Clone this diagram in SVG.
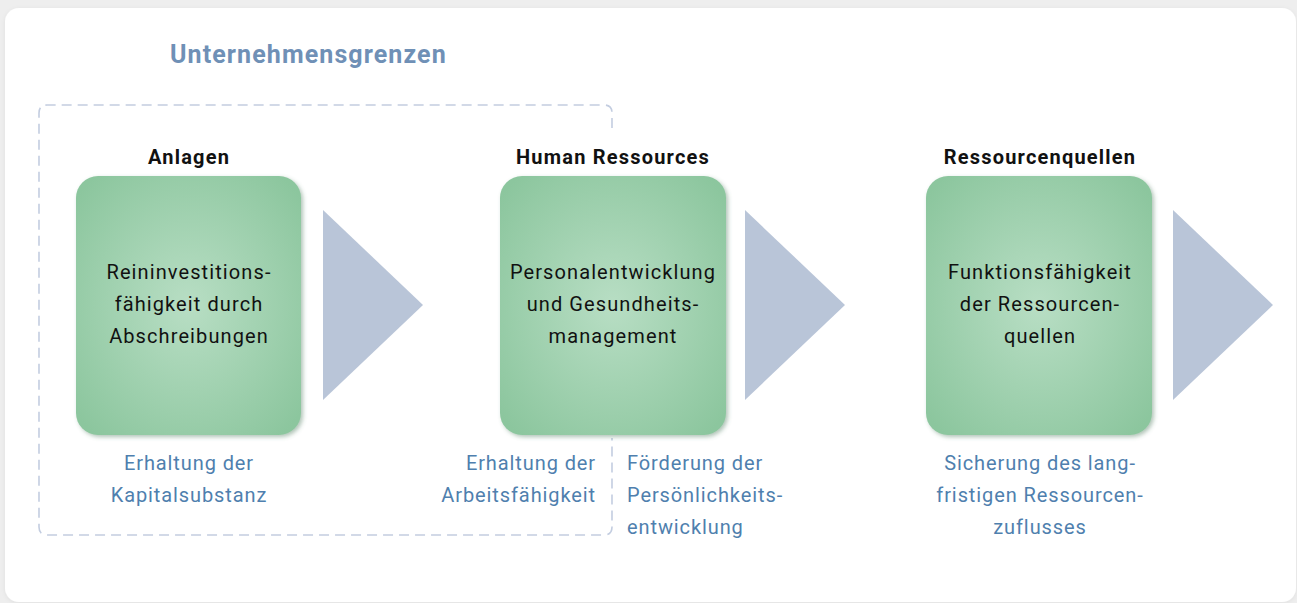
<svg xmlns="http://www.w3.org/2000/svg" width="1297" height="603" viewBox="0 0 1297 603">
  <defs>
    <radialGradient id="gbox" cx="0.5" cy="0.5" r="0.65">
      <stop offset="0" stop-color="#b8dec4"/>
      <stop offset="1" stop-color="#8cc69e"/>
    </radialGradient>
    <filter id="shadow" x="-10%" y="-10%" width="125%" height="125%">
      <feDropShadow dx="2" dy="2" stdDeviation="2" flood-color="#4f7d5e" flood-opacity="0.45"/>
    </filter>
    <filter id="cardshadow" x="-5%" y="-5%" width="110%" height="110%">
      <feDropShadow dx="0" dy="1" stdDeviation="2" flood-color="#000" flood-opacity="0.06"/>
    </filter>
  </defs>
  <style>
    .title { font-family: Roboto, "Liberation Sans", sans-serif; font-weight: bold; font-size: 20px; letter-spacing: 1.2px; fill: #111; text-anchor: middle; }
    .boxtxt { font-family: Roboto, "Liberation Sans", sans-serif; font-size: 20px; letter-spacing: 1.1px; fill: #111; text-anchor: middle; }
    .note { font-family: Roboto, "Liberation Sans", sans-serif; font-size: 20px; letter-spacing: 0.9px; fill: #4f7fae; }
    .head { font-family: Roboto, "Liberation Sans", sans-serif; font-weight: bold; font-size: 25px; letter-spacing: 1.1px; fill: #6f90b6; }
    .box { fill: url(#gbox); filter: url(#shadow); }
    .tri { fill: #b9c5d8; }
    .dash { fill: none; stroke: #c3cde0; stroke-width: 1.6; stroke-dasharray: 10 6; }
  </style>
  <rect x="0" y="0" width="1297" height="603" fill="#eeeeee"/>
  <rect x="5" y="8" width="1291" height="594" rx="14" fill="#ffffff" filter="url(#cardshadow)"/>

  <text class="head" x="170" y="63">Unternehmensgrenzen</text>

  <g id="boundary">
    <path class="dash" d="M 612 128 V 113 Q 612 105 604 105 H 47 Q 39 105 39 113 V 527 Q 39 535 47 535 H 604 Q 612 535 612 527 V 438"/>
  </g>

  <g id="connectors">
    <polygon class="tri" points="323,210 423,305 323,400"/>
    <polygon class="tri" points="745,210 845,305 745,400"/>
    <polygon class="tri" points="1173,210 1273,305 1173,400"/>
  </g>

  <g id="node-anlagen">
    <text class="title" x="189" y="164">Anlagen</text>
    <rect class="box" x="76" y="176" width="225" height="259" rx="22"/>
    <text class="boxtxt" x="189" y="279">Reininvestitions-</text>
    <text class="boxtxt" x="189" y="311">fähigkeit durch</text>
    <text class="boxtxt" x="189" y="343">Abschreibungen</text>
    <text class="note" x="189" y="470" text-anchor="middle">Erhaltung der</text>
    <text class="note" x="189" y="502" text-anchor="middle">Kapitalsubstanz</text>
  </g>

  <g id="node-hr">
    <text class="title" x="613" y="164">Human Ressources</text>
    <rect class="box" x="500" y="176" width="226" height="259" rx="22"/>
    <text class="boxtxt" x="613" y="279">Personalentwicklung</text>
    <text class="boxtxt" x="613" y="311">und Gesundheits-</text>
    <text class="boxtxt" x="613" y="343">management</text>
    <text class="note" x="596" y="470" text-anchor="end">Erhaltung der</text>
    <text class="note" x="596" y="502" text-anchor="end">Arbeitsfähigkeit</text>
    <text class="note" x="627" y="470">Förderung der</text>
    <text class="note" x="627" y="502">Persönlichkeits-</text>
    <text class="note" x="627" y="534">entwicklung</text>
  </g>

  <g id="node-quellen">
    <text class="title" x="1040" y="164">Ressourcenquellen</text>
    <rect class="box" x="926" y="176" width="226" height="259" rx="22"/>
    <text class="boxtxt" x="1040" y="279">Funktionsfähigkeit</text>
    <text class="boxtxt" x="1040" y="311">der Ressourcen-</text>
    <text class="boxtxt" x="1040" y="343">quellen</text>
    <text class="note" x="1040" y="470" text-anchor="middle">Sicherung des lang-</text>
    <text class="note" x="1040" y="502" text-anchor="middle">fristigen Ressourcen-</text>
    <text class="note" x="1040" y="534" text-anchor="middle">zuflusses</text>
  </g>
</svg>
